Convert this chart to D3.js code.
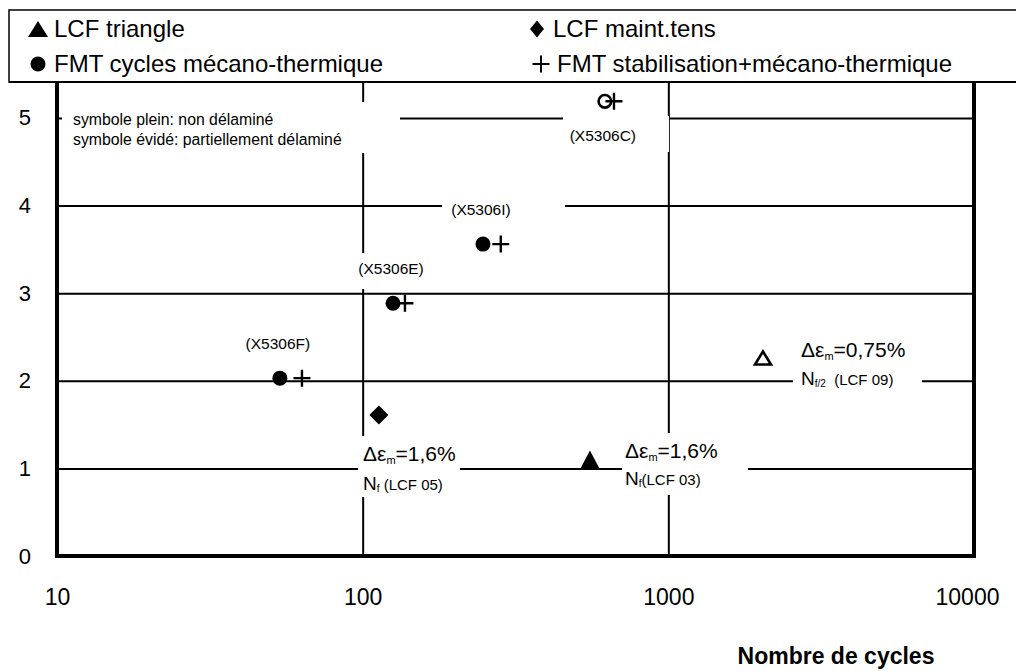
<!DOCTYPE html>
<html>
<head>
<meta charset="utf-8">
<script src="https://cdn.jsdelivr.net/npm/d3@7"></script>
<style>
  html, body { margin: 0; padding: 0; background: #fff; }
  svg { display: block; font-family: "Liberation Sans", Arial, sans-serif; }
</style>
</head>
<body>
<svg id="chart" width="1016" height="671"></svg>
<script>
// Cycles to delamination vs. load level, log x axis.

// --- data -----------------------------------------------------------------
const sampleLabels   = ["(X5306F)", "(X5306E)", "(X5306I)", "(X5306C)"];
const fmtCyclesN     = [53.6, 125.7, 247.5, 620];     // FMT cycles mécano-thermique
const fmtCyclesY     = [2.03, 2.885, 3.56, 5.19];
const fmtCyclesFull  = [true, true, true, false];     // plein / évidé
const fmtStabN       = [63.3, 137.5, 283, 664];       // FMT stabilisation+mécano-thermique
const fmtStabY       = [2.03, 2.885, 3.56, 5.19];
const lcfTriN        = [554, 2040];                   // LCF triangle
const lcfTriY        = [1.10, 2.26];
const lcfTriFull     = [true, false];
const lcfMaintN      = [113];                         // LCF maint.tens
const lcfMaintY      = [1.61];

const xTicks = [10, 100, 1000, 10000];
const yTicks = [0, 1, 2, 3, 4, 5];
const xGrid  = [100, 1000];
const yGrid  = [1, 2, 3, 4, 5];

const legendItems = [
  { sym: "triangle", text: "LCF triangle",                       col: 0, row: 0 },
  { sym: "diamond",  text: "LCF maint.tens",                     col: 1, row: 0 },
  { sym: "circle",   text: "FMT cycles mécano-thermique",         col: 0, row: 1 },
  { sym: "plus",     text: "FMT stabilisation+mécano-thermique",  col: 1, row: 1 }
];

// --- layout ---------------------------------------------------------------
const L = 57, R = 974, T = 82, B = 556;
const svg = d3.select("#chart");
svg.append("rect").attr("width", 1016).attr("height", 671).attr("fill", "#fff");

const x = d3.scaleLog().domain([10, 10000]).range([L, R]);
const y = d3.scaleLinear().domain([0, 5.41]).range([B, T]);

// gridlines through axes
svg.append("g")
  .attr("transform", "translate(" + L + ",0)")
  .call(d3.axisLeft(y).tickValues(yGrid).tickSize(-(R - L)).tickFormat(""))
  .call(g => g.select(".domain").remove())
  .call(g => g.selectAll("line").attr("stroke", "#000").attr("stroke-width", 2));

svg.append("g")
  .attr("transform", "translate(0," + B + ")")
  .call(d3.axisBottom(x).tickValues(xGrid).tickSize(-(B - T)).tickFormat(""))
  .call(g => g.select(".domain").remove())
  .call(g => g.selectAll("line").attr("stroke", "#000").attr("stroke-width", 2));

// white annotation boxes that cut the gridlines
const boxes = [
  [62, 102, 400, 153],   // symbole plein / évidé
  [563, 116, 669, 152],  // X5306C
  [442, 195, 565, 222],  // X5306I
  [345, 253, 432, 289],  // X5306E
  [240, 330, 325, 358],  // X5306F
  [358, 436, 460, 497],  // LCF 05
  [622, 433, 748, 495],  // LCF 03
  [793, 338, 922, 398]   // LCF 09
];
svg.append("g").selectAll("rect").data(boxes).join("rect")
  .attr("x", d => d[0]).attr("y", d => d[1])
  .attr("width", d => d[2] - d[0]).attr("height", d => d[3] - d[1])
  .attr("fill", "#fff");

// frame: left, bottom, right
svg.append("path")
  .attr("d", "M" + L + "," + T + "V" + B + "H" + R + "V" + T)
  .attr("fill", "none").attr("stroke", "#000").attr("stroke-width", 4)
  .attr("stroke-linejoin", "miter");

// tick labels
svg.append("g")
  .attr("transform", "translate(" + L + ",0)")
  .call(d3.axisLeft(y).tickValues(yTicks).tickSize(0).tickPadding(26).tickFormat(d3.format("d")))
  .call(g => g.select(".domain").remove())
  .call(g => g.selectAll("text").attr("font-size", 22).attr("font-family", null).attr("fill", "#000"));

svg.append("g")
  .attr("transform", "translate(0," + B + ")")
  .call(d3.axisBottom(x).tickValues(xTicks).tickSize(0).tickPadding(33).tickFormat(d3.format("d")))
  .call(g => g.select(".domain").remove())
  .call(g => g.selectAll("text").attr("font-size", 23).attr("font-family", null).attr("fill", "#000")
    .attr("dx", d => d === 10000 ? -7 : 0));

svg.append("text")
  .attr("x", 836).attr("y", 664)
  .attr("text-anchor", "middle")
  .attr("font-size", 23).attr("font-weight", "bold")
  .text("Nombre de cycles");

// --- marker shapes ----------------------------------------------------------
function triPath(w, h) {
  return "M0," + (-h / 2) + "L" + (w / 2) + "," + (h / 2) + "L" + (-w / 2) + "," + (h / 2) + "Z";
}
function diaPath(w, h) {
  return "M0," + (-h / 2) + "L" + (w / 2) + ",0L0," + (h / 2) + "L" + (-w / 2) + ",0Z";
}
function plusPath(s) {
  return "M" + (-s) + ",0H" + s + "M0," + (-s) + "V" + s;
}

const marks = svg.append("g");

// FMT stabilisation (+)
marks.selectAll(".stab").data(fmtStabN).join("path")
  .attr("class", "stab")
  .attr("transform", (d, i) => "translate(" + x(d) + "," + y(fmtStabY[i]) + ")")
  .attr("d", plusPath(8.5))
  .attr("stroke", "#000").attr("stroke-width", 2.4).attr("fill", "none");

// FMT cycles (circles)
marks.selectAll(".cyc").data(fmtCyclesN).join("circle")
  .attr("class", "cyc")
  .attr("cx", d => x(d))
  .attr("cy", (d, i) => y(fmtCyclesY[i]))
  .attr("r", (d, i) => fmtCyclesFull[i] ? 7.5 : 6.3)
  .attr("fill", (d, i) => fmtCyclesFull[i] ? "#000" : "none")
  .attr("stroke", "#000")
  .attr("stroke-width", (d, i) => fmtCyclesFull[i] ? 0 : 2.6);

// LCF triangle
marks.selectAll(".tri").data(lcfTriN).join("path")
  .attr("class", "tri")
  .attr("transform", (d, i) => "translate(" + x(d) + "," + y(lcfTriY[i]) + ")")
  .attr("d", (d, i) => lcfTriFull[i] ? triPath(19, 18) : triPath(16, 13))
  .attr("fill", (d, i) => lcfTriFull[i] ? "#000" : "none")
  .attr("stroke", "#000")
  .attr("stroke-width", (d, i) => lcfTriFull[i] ? 0 : 2.6)
  .attr("stroke-linejoin", "miter");

// LCF maint.tens
marks.selectAll(".dia").data(lcfMaintN).join("path")
  .attr("class", "dia")
  .attr("transform", (d, i) => "translate(" + x(d) + "," + y(lcfMaintY[i]) + ")")
  .attr("d", diaPath(19, 19))
  .attr("fill", "#000");

// sample labels, hung off the circle positions
svg.append("g").selectAll("text").data(sampleLabels).join("text")
  .attr("x", (d, i) => x(fmtCyclesN[i]) - 2)
  .attr("y", (d, i) => y(fmtCyclesY[i]) + (fmtCyclesFull[i] ? -29 : 40))
  .attr("text-anchor", "middle")
  .attr("font-size", 15.5)
  .text(d => d);

// --- annotations ------------------------------------------------------------
svg.append("text").attr("x", 73).attr("y", 125).attr("font-size", 15.8)
  .text("symbole plein: non délaminé");
svg.append("text").attr("x", 73).attr("y", 145).attr("font-size", 15.8)
  .text("symbole évidé: partiellement délaminé");

const strainNotes = [
  { x: 363, y1: 461, y2: 490, strain: "=1,6%",  nsub: "f",   ref: " (LCF 05)" },
  { x: 625, y1: 458, y2: 485, strain: "=1,6%",  nsub: "f",   ref: "(LCF 03)" },
  { x: 801, y1: 357, y2: 385, strain: "=0,75%", nsub: "f/2", ref: "  (LCF 09)" }
];
strainNotes.forEach(function (n) {
  const t1 = svg.append("text").attr("x", n.x).attr("y", n.y1).attr("font-size", 21);
  t1.append("tspan").text("Δε");
  t1.append("tspan").attr("font-size", 11).attr("dy", 3).text("m");
  t1.append("tspan").attr("dy", -3).text(n.strain);

  const t2 = svg.append("text").attr("x", n.x).attr("y", n.y2).attr("font-size", 19);
  t2.append("tspan").text("N");
  t2.append("tspan").attr("font-size", 10).attr("dy", 2).text(n.nsub);
  t2.append("tspan").attr("font-size", 15).attr("dy", -2).attr("xml:space", "preserve").text(n.ref);
});

// --- legend -----------------------------------------------------------------
svg.append("rect")
  .attr("x", 9).attr("y", 10).attr("width", 1020).attr("height", 72)
  .attr("fill", "#fff").attr("stroke", "#000").attr("stroke-width", 1.5);
svg.append("line")
  .attr("x1", 9).attr("x2", 1016).attr("y1", 82).attr("y2", 82)
  .attr("stroke", "#000").attr("stroke-width", 2);

const colX = [38, 537];
const rowY = [29, 64];
const leg = svg.append("g").selectAll("g").data(legendItems).join("g")
  .attr("transform", d => "translate(" + colX[d.col] + "," + rowY[d.row] + ")");

leg.each(function (d) {
  const g = d3.select(this);
  if (d.sym === "triangle") g.append("path").attr("d", triPath(20, 16)).attr("fill", "#000");
  if (d.sym === "diamond")  g.append("path").attr("d", diaPath(14, 17)).attr("fill", "#000");
  if (d.sym === "circle")   g.append("circle").attr("r", 7.5).attr("fill", "#000");
  if (d.sym === "plus")     g.append("path").attr("d", plusPath(8.5)).attr("stroke", "#000")
                              .attr("stroke-width", 2).attr("fill", "none").attr("transform", "translate(4,0)");
  g.append("text")
    .attr("x", d.sym === "plus" ? 20 : 16)
    .attr("y", 8)
    .attr("font-size", 24)
    .text(d.text);
});
</script>
</body>
</html>
